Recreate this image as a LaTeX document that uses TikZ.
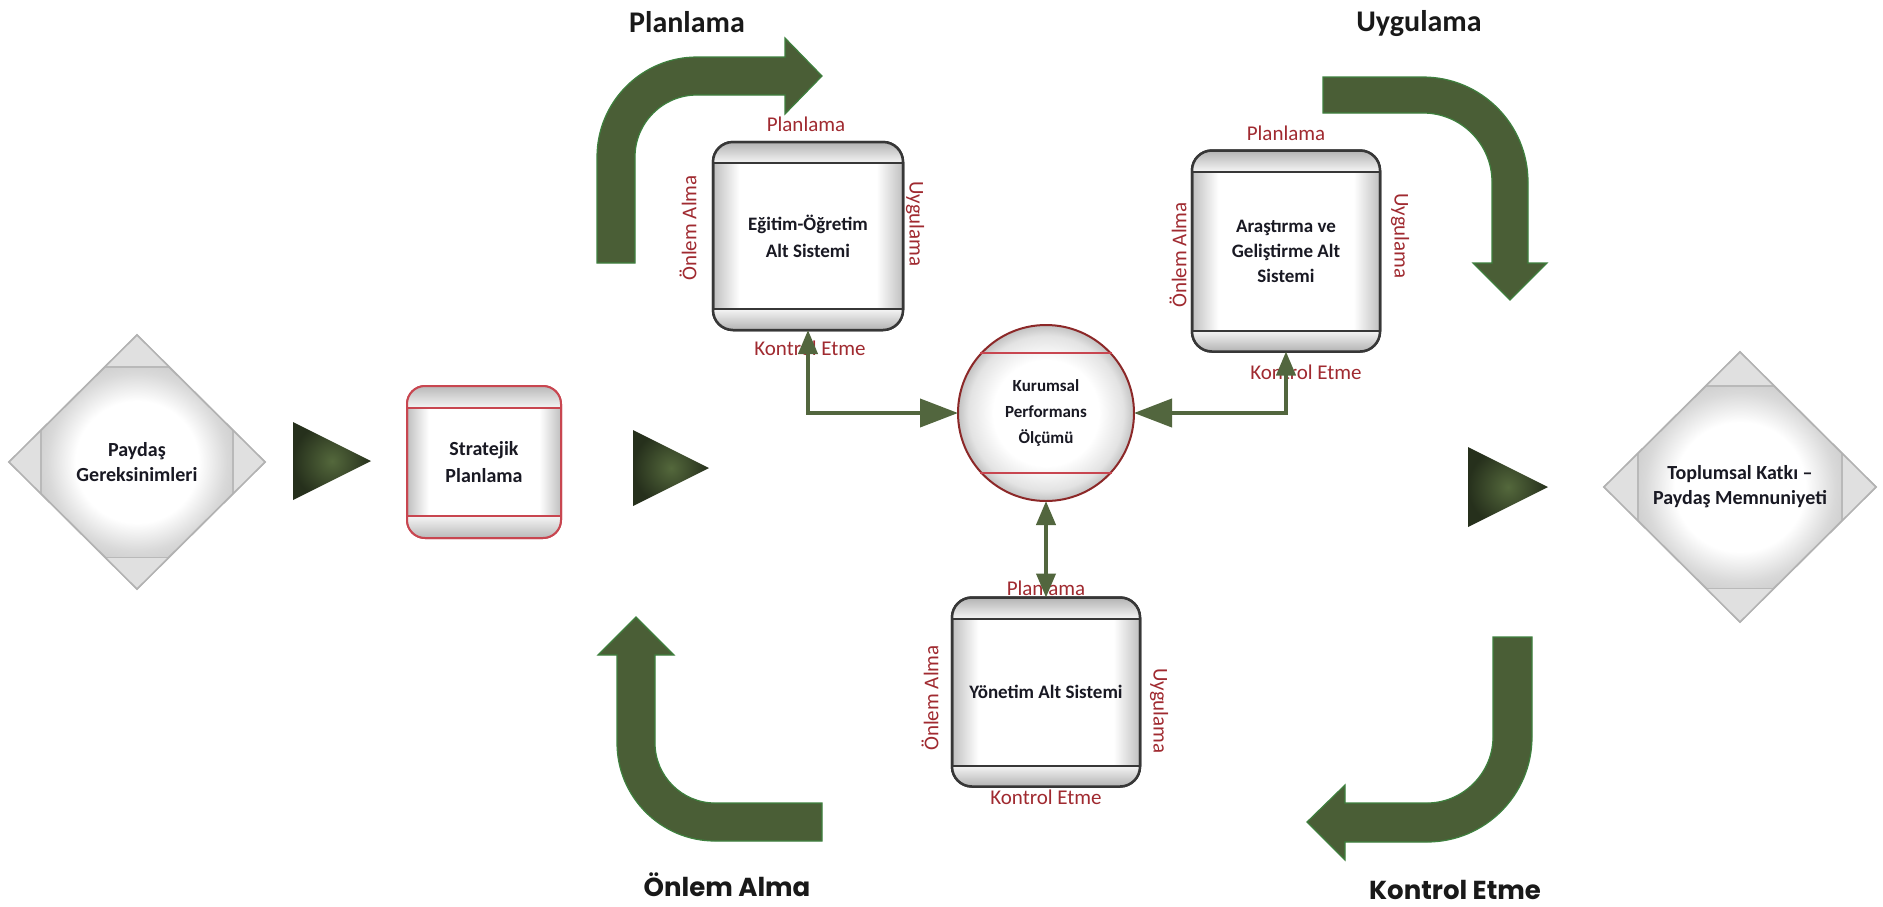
\documentclass[tikz,border=0pt]{standalone}
\usepackage{fontspec}
\setmainfont{Carlito}
\newfontfamily\geo{Poppins}
\usetikzlibrary{shapes.geometric,arrows.meta,calc}
\definecolor{arrowgreen}{RGB}{74,94,54}
\definecolor{arrowedge}{RGB}{62,128,62}
\definecolor{congreen}{RGB}{82,102,62}
\definecolor{labred}{RGB}{160,42,48}
\definecolor{circred}{RGB}{140,40,40}
\definecolor{strred}{RGB}{200,70,80}
\definecolor{boxedge}{RGB}{55,55,55}
\definecolor{txt}{RGB}{25,25,35}
\definecolor{trigin}{RGB}{84,104,60}
\definecolor{trigout}{RGB}{38,48,28}
\pgfdeclareradialshading{diaglow}{\pgfpoint{0bp}{0bp}}{color(0bp)=(white); color(12bp)=(white); color(17.5bp)=(gray!30); color(25bp)=(gray!55); color(50bp)=(gray!55)}
\pgfdeclareradialshading{circglow}{\pgfpoint{0bp}{0bp}}{color(0bp)=(white); color(15bp)=(white); color(22bp)=(gray!22); color(25bp)=(gray!48); color(50bp)=(gray!48)}
\pgfdeclarehorizontalshading{boxglow}{100bp}{color(0bp)=(gray!50); color(25bp)=(gray!50); color(32bp)=(white); color(68bp)=(white); color(75bp)=(gray!50); color(100bp)=(gray!50)}
\begin{document}
\begin{tikzpicture}[x=1pt,y=-1pt,
  bigarrow/.style={fill=arrowgreen, draw=arrowedge, line width=1.2pt},
  trig/.style={inner color=trigin, outer color=trigout},
  dia/.style={shape=diamond, draw=gray!60, line width=1.5pt, shading=diaglow,
    inner sep=0pt, outer sep=0pt, align=center, text=txt, font=\fontsize{20}{25}\selectfont\bfseries},
  subbox/.style={rectangle, rounded corners=20pt, draw=boxedge, line width=2.5pt,
    shading=boxglow, shading angle=0, inner sep=0pt, outer sep=0pt,
    align=center, text=txt, font=\fontsize{19}{27}\selectfont\bfseries},
  stratbox/.style={rectangle, rounded corners=18pt, draw=strred, line width=2pt,
    shading=boxglow, shading angle=0, inner sep=0pt, outer sep=0pt,
    align=center, text=txt, font=\fontsize{20}{27}\selectfont\bfseries},
  kpostyle/.style={circle, draw=circred, line width=2pt, shading=circglow,
    minimum size=176pt, inner sep=0pt, outer sep=0pt, align=center, text=txt,
    font=\fontsize{17}{26}\selectfont\bfseries},
  lab/.style={font=\fontsize{21}{24}\selectfont, text=labred, inner sep=0pt},
  title/.style={font=\fontsize{30}{36}\selectfont\bfseries, text=black!90, inner sep=0pt, anchor=base},
  geotitle/.style={font=\geo\fontsize{26}{30}\selectfont\bfseries, text=black!90, inner sep=0pt, anchor=base},
  conn/.style={draw=congreen, line width=4pt},
  stip/.tip={Triangle[length=24pt,width=19pt]},
  btip/.tip={Triangle[length=38pt,width=28pt]}
]
\useasboundingbox (0,0) rectangle (1883,906);
\fill[white] (0,0) rectangle (1883,906);

% ---- big curved arrows ----
% top-left
\path[bigarrow] (597,263) -- (597,157) .. controls (597,101.8) and (641.8,57) .. (697,57)
  -- (785,57) -- (785,38) -- (822,76) -- (785,114) -- (785,95) -- (697,95)
  .. controls (662.8,95) and (635,122.8) .. (635,157) -- (635,263) -- cycle;
% top-right
\path[bigarrow] (1323,77) -- (1423,77) .. controls (1481,77) and (1528,124) .. (1528,182)
  -- (1528,263) -- (1547,263) -- (1510,300) -- (1473,263) -- (1492,263) -- (1492,182)
  .. controls (1492,144) and (1461,113) .. (1423,113) -- (1323,113) -- cycle;
% bottom-left
\path[bigarrow] (636,617) -- (674,655) -- (655,655) -- (655,743)
  .. controls (655,776) and (682,803) .. (715,803) -- (822,803) -- (822,841) -- (715,841)
  .. controls (661,841) and (617,797) .. (617,743) -- (617,655) -- (598,655) -- cycle;
% bottom-right
\path[bigarrow] (1493,637) -- (1532,637) -- (1532,737) .. controls (1532,795) and (1485,842) .. (1427,842)
  -- (1345,842) -- (1345,860) -- (1307,822) -- (1345,785) -- (1345,803) -- (1427,803)
  .. controls (1463,803) and (1493,773) .. (1493,737) -- cycle;

% ---- flow triangles ----
\shade[trig] (293,422) -- (293,500) -- (371,461) -- cycle;
\shade[trig] (633,430) -- (633,506) -- (709,468) -- cycle;
\shade[trig] (1468,447) -- (1468,527) -- (1548,487) -- cycle;

% ---- diamonds ----
\node[dia, minimum width=256pt, minimum height=254pt] (pd) at (137,462) {Paydaş\\Gereksinimleri};
\node[dia, minimum width=272pt, minimum height=270pt] (tk) at (1740,487) {Toplumsal Katkı –\\Paydaş Memnuniyeti};
\foreach \n in {pd,tk}{
  \foreach \a/\b/\c in {north/west/east, south/west/east, west/north/south, east/north/south}{
    \fill[gray!24] (\n.\a) -- ($(\n.\a)!0.25!(\n.\b)$) -- ($(\n.\a)!0.25!(\n.\c)$) -- cycle;
    \draw[gray!55, line width=1.5pt] ($(\n.\a)!0.25!(\n.\b)$) -- ($(\n.\a)!0.25!(\n.\c)$);
  }
  \draw[gray!60, line width=1.5pt] (\n.north) -- (\n.east) -- (\n.south) -- (\n.west) -- cycle;
}

% ---- Stratejik Planlama ----
\node[stratbox, minimum width=154pt, minimum height=152pt] (sp) at (484,462) {Stratejik\\Planlama};
\begin{scope}
  \clip[rounded corners=18pt] (sp.south west) rectangle (sp.north east);
  \shade[top color=gray!55, bottom color=gray!8] (sp.north west) rectangle ($(sp.north east)+(0,22)$);
  \shade[top color=gray!8, bottom color=gray!55] ($(sp.south west)+(0,-22)$) rectangle (sp.south east);
\end{scope}
\draw[strred, line width=2pt] ($(sp.north west)+(0,22)$) -- ($(sp.north east)+(0,22)$);
\draw[strred, line width=2pt] ($(sp.south west)+(0,-22)$) -- ($(sp.south east)+(0,-22)$);
\draw[strred, line width=2pt, rounded corners=18pt] (sp.south west) rectangle (sp.north east);

% ---- subsystem boxes ----
\node[subbox, minimum width=190pt, minimum height=188pt] (egitim) at (808,236) {Eğitim-Öğretim\\Alt Sistemi};
\node[subbox, minimum width=188pt, minimum height=201pt, font=\fontsize{19}{25}\selectfont\bfseries] (arastirma) at (1286,251) {Araştırma ve\\Geliştirme Alt\\Sistemi};
\node[subbox, minimum width=188pt, minimum height=189pt] (yonetim) at (1046,692) {Yönetim Alt Sistemi};
\foreach \n in {egitim,arastirma,yonetim}{
  \begin{scope}
    \clip[rounded corners=20pt] (\n.south west) rectangle (\n.north east);
    \shade[top color=gray!60, bottom color=gray!8] (\n.north west) rectangle ($(\n.north east)+(0,21)$);
    \shade[top color=gray!8, bottom color=gray!60] ($(\n.south west)+(0,-21)$) rectangle (\n.south east);
  \end{scope}
  \draw[boxedge, line width=2pt] ($(\n.north west)+(0,21)$) -- ($(\n.north east)+(0,21)$);
  \draw[boxedge, line width=2pt] ($(\n.south west)+(0,-21)$) -- ($(\n.south east)+(0,-21)$);
  \draw[boxedge, line width=2.5pt, rounded corners=20pt] (\n.south west) rectangle (\n.north east);
}

% ---- circle ----
\node[kpostyle] (kpo) at (1046,413) {Kurumsal\\Performans\\Ölçümü};
\draw[strred, line width=1.8pt] ($(kpo.center)+(-65.7,-60)$) -- ($(kpo.center)+(65.7,-60)$);
\draw[strred, line width=1.8pt] ($(kpo.center)+(-65.7,60)$) -- ($(kpo.center)+(65.7,60)$);

% ---- red labels ----
\node[lab] (e1) at (806,124) {Planlama};
\node[lab] (e2) at (810,348) {Kontrol Etme};
\node[lab, rotate=90] (e3) at (688,228) {Önlem Alma};
\node[lab, rotate=-90] (e4) at (915,224) {Uygulama};
\node[lab] (a1) at (1286,133) {Planlama};
\node[lab] (a2) at (1306,372) {Kontrol Etme};
\node[lab, rotate=90] (a3) at (1178,255) {Önlem Alma};
\node[lab, rotate=-90] (a4) at (1400,236) {Uygulama};
\node[lab] (y1) at (1046,588) {Planlama};
\node[lab] (y2) at (1046,797) {Kontrol Etme};
\node[lab, rotate=90] (y3) at (930,698) {Önlem Alma};
\node[lab, rotate=-90] (y4) at (1159,711) {Uygulama};

% ---- connectors ----
\draw[conn, stip-btip] (egitim.south) |- (kpo.west);
\draw[conn, stip-btip] (arastirma.south) |- (kpo.east);
\draw[conn, stip-stip] (kpo.south) -- (yonetim.north);

% ---- titles ----
\node[title] (t1) at (687,32) {Planlama};
\node[title] (t2) at (1419,31) {Uygulama};
\node[geotitle] (t3) at (727,896) {Önlem Alma};
\node[geotitle] (t4) at (1455,899) {Kontrol Etme};
\end{tikzpicture}
\end{document}
